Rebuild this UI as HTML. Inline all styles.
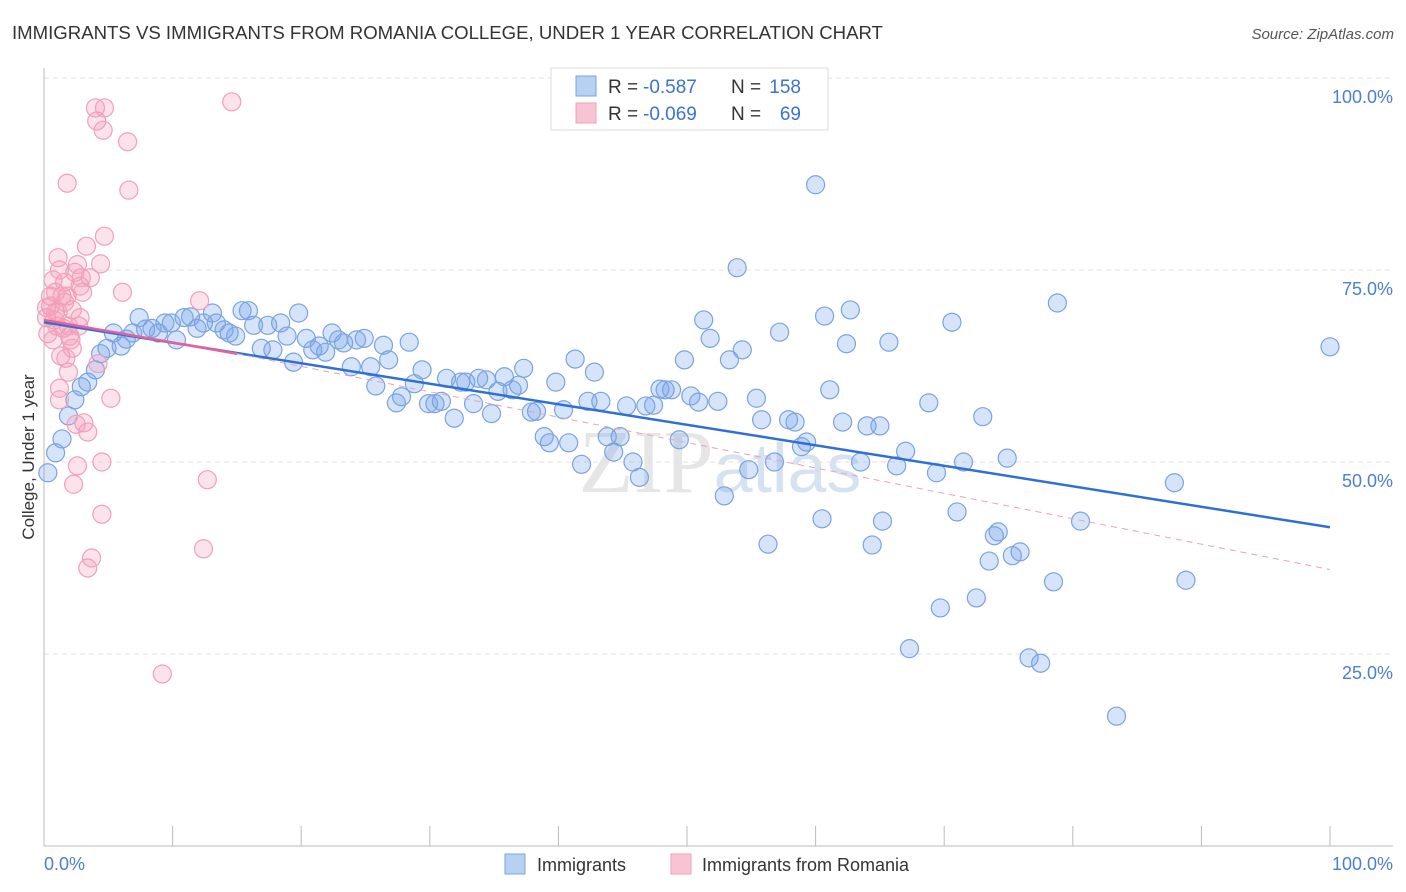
<!DOCTYPE html>
<html><head><meta charset="utf-8"><style>
body{margin:0;background:#fff;font-family:"Liberation Sans",sans-serif;}
svg{display:block}
</style></head><body>
<svg id="chart" width="1406" height="892">
<text x="12" y="39" font-size="18.6" fill="#333">IMMIGRANTS VS IMMIGRANTS FROM ROMANIA COLLEGE, UNDER 1 YEAR CORRELATION CHART</text>
<text x="1394" y="39" font-size="15" fill="#555" font-style="italic" text-anchor="end">Source: ZipAtlas.com</text>
<text x="720" y="492" font-size="90" fill="#e6e6e6" text-anchor="middle" font-family="Liberation Serif">ZIP<tspan fill="#d6e2f2" font-family="Liberation Sans" font-size="70">atlas</tspan></text>
<g id="grid"></g><g id="axes"></g><g id="pts"></g><g id="trend"></g>
<text transform="translate(34,457) rotate(-90)" font-size="17" fill="#333" text-anchor="middle">College, Under 1 year</text>
<g>
<rect x="551" y="68" width="277" height="62" fill="#fff" stroke="#ddd"/>
<rect x="576" y="76" width="20" height="20" fill="#b8d0f2" stroke="#7aa3e0"/>
<rect x="576" y="103" width="20" height="20" fill="#f8c4d4" stroke="#f0a0b8"/>
<text x="608" y="93" font-size="19" fill="#333">R =</text>
<text x="643" y="93" font-size="19" fill="#3a73d0">-0.587</text>
<text x="731" y="93" font-size="19" fill="#333">N =</text>
<text x="801" y="93" font-size="19" fill="#3a73d0" text-anchor="end">158</text>
<text x="608" y="120" font-size="19" fill="#333">R =</text>
<text x="643" y="120" font-size="19" fill="#3a73d0">-0.069</text>
<text x="731" y="120" font-size="19" fill="#333">N =</text>
<text x="801" y="120" font-size="19" fill="#3a73d0" text-anchor="end">69</text>
</g>
<g>
<rect x="505" y="854" width="20" height="20" fill="#b8d0f2" stroke="#7aa3e0"/>
<text x="537" y="871" font-size="18" fill="#333">Immigrants</text>
<rect x="671" y="854" width="20" height="20" fill="#f8c4d4" stroke="#f0a0b8"/>
<text x="702" y="871" font-size="18" fill="#333">Immigrants from Romania</text>
</g>
</svg>
<script>
const blueX=[0.3,0.9,1.4,1.9,2.4,2.9,3.4,4.0,4.4,4.9,5.4,6.0,6.4,6.9,7.4,7.9,8.4,8.9,9.4,9.9,10.3,10.9,11.4,11.9,12.4,13.1,13.4,14.0,14.4,14.9,15.4,15.9,16.3,16.9,17.4,17.8,18.4,18.9,19.4,19.8,20.4,20.9,21.4,21.9,22.4,22.9,23.3,23.9,24.3,24.9,25.4,25.8,26.4,26.8,27.4,27.8,28.4,28.8,29.4,29.9,30.4,30.9,31.3,31.9,32.4,32.8,33.4,33.8,34.4,34.8,35.3,35.8,36.4,36.9,37.3,37.9,38.3,38.9,39.3,39.8,40.4,40.8,41.3,41.8,42.3,42.8,43.3,43.8,44.3,44.8,45.3,45.8,46.3,46.8,47.4,47.9,48.3,48.8,49.4,49.8,50.3,50.9,51.3,51.8,52.4,52.9,53.3,53.9,54.3,54.8,55.4,55.8,56.3,56.8,57.2,57.9,58.4,58.9,59.3,60.0,60.5,60.7,61.1,62.1,62.4,62.7,63.5,64.0,64.4,65.0,65.2,65.7,66.3,67.0,67.3,68.8,69.4,69.7,70.6,71.0,71.5,72.5,73.0,73.5,73.9,74.2,74.9,75.3,75.9,76.6,77.5,78.5,78.8,80.6,83.4,87.9,88.8,100];
const blueY=[48.6,51.2,53.0,56.0,58.1,59.8,60.4,62.0,64.1,64.8,66.8,65.1,66.0,66.8,68.8,67.3,67.4,66.8,68.1,68.1,65.9,68.8,68.9,67.4,68.1,69.4,68.1,67.2,66.8,66.4,69.7,69.7,67.8,64.8,67.8,64.6,68.1,66.4,63.0,69.4,66.1,64.6,65.1,64.3,66.8,65.9,65.5,62.4,65.9,66.1,62.4,59.9,65.2,63.3,57.7,58.5,65.6,60.2,62.0,57.6,57.6,57.9,60.9,55.7,60.4,60.4,57.6,60.9,60.7,56.3,59.2,61.1,59.4,60.0,62.2,56.5,56.6,53.3,52.5,60.4,56.8,52.5,63.4,49.7,57.9,61.7,57.9,53.3,51.3,53.3,57.3,50.0,48.0,57.3,57.4,59.5,59.4,59.4,52.9,63.3,58.6,57.8,68.5,66.1,57.9,45.6,63.3,75.3,64.6,49.0,58.3,55.5,39.3,50.0,66.9,55.5,55.2,52.0,52.6,86.1,42.6,69.0,59.4,55.2,65.4,69.8,50.0,54.7,39.2,54.7,42.3,65.6,49.5,51.4,25.7,57.7,48.6,31.0,68.2,43.5,50.0,32.3,55.9,37.1,40.4,40.9,50.5,37.8,38.3,24.5,23.8,34.4,70.7,42.3,16.9,47.3,34.6,65.0];
const pinkX=[0.2,0.3,0.5,0.5,0.7,0.8,0.9,0.9,1.0,1.1,1.2,1.2,1.3,1.4,1.5,1.6,1.6,1.7,1.8,1.9,1.9,2.0,2.1,2.2,2.3,2.4,2.5,2.6,2.6,2.7,2.8,2.9,3.0,3.1,3.3,3.4,3.4,3.6,3.7,4.0,4.1,4.2,4.4,4.5,4.5,4.6,4.7,5.2,4.7,6.1,6.5,6.6,9.2,12.1,12.4,12.7,14.6,0.7,1.2,1.8,2.2,2.8,1.1,0.2];
const pinkY=[68.8,66.7,71.6,70.3,73.7,68.5,72.1,69.5,67.7,76.6,59.6,58.1,63.8,71.6,67.4,73.4,70.8,63.5,86.3,61.7,67.7,66.4,65.9,69.8,47.1,74.7,54.9,75.7,49.5,67.7,72.9,74.0,72.1,55.1,78.1,36.2,53.9,74.0,37.5,96.1,94.4,62.8,75.8,50.0,43.2,93.2,79.4,58.3,96.1,72.1,91.7,85.4,22.4,71.0,38.7,47.7,96.9,65.9,75.0,71.6,64.8,68.8,69.5,70.1];
const yTicks=[25,50,75,100];
const blueTrend=[[0,68.2],[100,41.5]];
const pinkTrend=[[0,68.5],[15,64.1],[100,36.0]];
const NS="http://www.w3.org/2000/svg";
const X0=44,X1=1330,Y0=846,Y100=78;
const sx=v=>X0+(X1-X0)*v/100, sy=v=>Y0-(Y0-Y100)*v/100;
function mk(tag,attrs,parent){const e=document.createElementNS(NS,tag);for(const k in attrs)e.setAttribute(k,attrs[k]);parent.appendChild(e);return e;}
const grid=document.getElementById('grid'),axes=document.getElementById('axes'),pts=document.getElementById('pts'),tr=document.getElementById('trend');
yTicks.forEach(t=>{
  const l=mk('line',{x1:X0,x2:1393,y1:sy(t),y2:sy(t),stroke:'#e2e2e2','stroke-dasharray':'5,4'},grid);
  
  
  const tx=mk('text',{x:1393,y:sy(t)+25,'font-size':18,fill:'#4a7fd4','text-anchor':'end'},grid);
  tx.textContent=t.toFixed(1)+'%';
  
  
});
mk('line',{x1:X0,x2:X0,y1:68,y2:Y0,stroke:'#bbb'},axes);
mk('line',{x1:X0,x2:1393,y1:Y0,y2:Y0,stroke:'#bbb'},axes);
for(let i=1;i<=10;i++){mk('line',{x1:sx(i*10),x2:sx(i*10),y1:826,y2:Y0,stroke:'#bbb'},axes);}
const xl=mk('text',{x:X0,y:870,'font-size':18,fill:'#4a7fd4'},axes);xl.textContent='0.0%';


const xr=mk('text',{x:1393,y:870,'font-size':18,fill:'#4a7fd4','text-anchor':'end'},axes);xr.textContent='100.0%';


blueX.forEach((v,i)=>{const c=mk('circle',{cx:sx(v),cy:sy(blueY[i]),r:9,fill:'rgba(120,165,235,0.3)',stroke:'#7aa3e0','stroke-width':1.2},pts);
  
  });
pinkX.forEach((v,i)=>{const c=mk('circle',{cx:sx(v),cy:sy(pinkY[i]),r:9,fill:'rgba(245,160,190,0.3)',stroke:'#f0a0b8','stroke-width':1.2},pts);
  
  });
const bl=mk('line',{x1:sx(blueTrend[0][0]),y1:sy(blueTrend[0][1]),x2:sx(blueTrend[1][0]),y2:sy(blueTrend[1][1]),stroke:'#2f6fd6','stroke-width':2.5},tr);


const pl=mk('line',{x1:sx(pinkTrend[0][0]),y1:sy(pinkTrend[0][1]),x2:sx(pinkTrend[1][0]),y2:sy(pinkTrend[1][1]),stroke:'#e8609a','stroke-width':2.5},tr);


const pd=mk('line',{x1:sx(pinkTrend[1][0]),y1:sy(pinkTrend[1][1]),x2:sx(pinkTrend[2][0]),y2:sy(pinkTrend[2][1]),stroke:'#eaa0bc','stroke-width':1,'stroke-dasharray':'6,5'},tr);


</script>
</body></html>
